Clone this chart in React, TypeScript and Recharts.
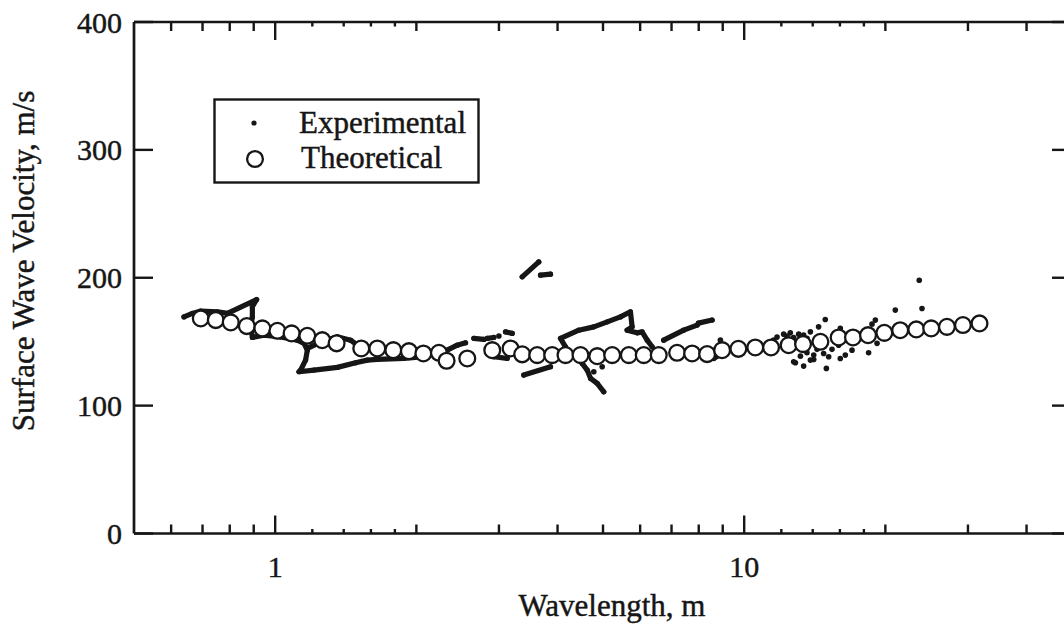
import React from 'react';
import { ScatterChart, Scatter, XAxis, YAxis, Legend } from 'recharts';

const FONT = '"Liberation Serif", "Times New Roman", Times, serif';
const INK = '#161616';

// Axis ticks (wavelength in m, velocity in m/s)
const xTicks = [0.6, 0.7, 0.8, 0.9, 1, 1.2, 1.4, 1.6, 1.8, 2, 3, 4, 5, 6, 7, 8, 9, 10, 12, 14, 16, 18, 20, 30, 40, 50];
const xMajorTicks = [1, 10];
const xSmallTicks = [1.2, 1.4, 1.6, 1.8, 12, 14, 16, 18];
const yTicks = [0, 100, 200, 300, 400];

// Theoretical dispersion curve: [wavelength m, velocity m/s]
const theoretical: [number, number][] = [
  [0.694, 168.2], [0.747, 166.9], [0.804, 165.1], [0.87, 162.2], [0.939, 160.4],
  [1.011, 158.5], [1.084, 156.5], [1.171, 154.6], [1.26, 151.2], [1.352, 148.7],
  [1.526, 144.7], [1.651, 144.7], [1.786, 143.4], [1.928, 142.6], [2.07, 140.8],
  [2.234, 141.3], [2.32, 135.1], [2.568, 136.9], [2.903, 143.4], [3.176, 144.7],
  [3.363, 140.1], [3.62, 139.5], [3.896, 139.5], [4.159, 139.5], [4.477, 139.5],
  [4.86, 138.7], [5.231, 139.5], [5.675, 139.5], [6.107, 139.5], [6.574, 139.5],
  [7.194, 141.3], [7.745, 140.8], [8.337, 140.3], [8.974, 143.4], [9.719, 144.4],
  [10.56, 145.5], [11.41, 145.5], [12.44, 147.3], [13.35, 148.1], [14.54, 149.9],
  [15.9, 153.3], [17.06, 153.3], [18.37, 155.1], [19.9, 156.9], [21.51, 159.0],
  [23.28, 159.6], [25.05, 160.4], [27.06, 161.6], [29.27, 163.0], [31.75, 164.3],
];

// Experimental dispersion data, dense runs of points traced as continuous strings
const expLoop: [number, number][] = [
  [0.639, 169.4], [0.666, 172.1], [0.694, 173.9], [0.753, 173.4], [0.791, 172.1],
  [0.913, 183.0], [0.894, 177.3], [0.894, 169.4], [0.887, 161.6], [0.894, 153.3],
  [0.946, 155.1], [1.027, 153.8], [1.115, 151.2], [1.152, 148.7], [1.171, 143.4],
  [1.161, 135.6], [1.133, 127.8], [1.124, 126.5], [1.21, 127.8], [1.357, 129.9],
  [1.484, 133.5], [1.572, 135.6], [1.651, 136.1], [1.881, 136.9], [2.075, 138.2],
  [2.216, 140.8], [2.327, 143.4], [2.444, 147.3], [2.546, 149.1],
];
const expBranch: [number, number][] = [
  [1.171, 144.7], [1.25, 149.7], [1.357, 153.8], [1.448, 151.2], [1.497, 147.3], [1.546, 142.1],
];
const expDashA: [number, number][] = [[2.652, 152.6], [2.786, 151.8]];
const expDashB: [number, number][] = [[2.833, 152.6], [2.925, 153.3]];
const expDashC: [number, number][] = [[3.098, 157.7], [3.202, 156.5]];
const expDashD: [number, number][] = [[2.925, 138.2], [3.124, 136.9]];
const expHighA: [number, number][] = [[3.363, 200.7], [3.648, 212.4]];
const expHighB: [number, number][] = [[3.679, 202.0], [3.864, 202.8]];
const expLowA: [number, number][] = [[3.389, 123.9], [3.864, 130.4]];
const expZigzag: [number, number][] = [
  [4.159, 146.0], [4.058, 152.6], [4.44, 159.0], [4.779, 161.6], [5.105, 165.5],
  [5.446, 169.4], [5.721, 173.4], [5.769, 161.6], [5.629, 159.0], [5.912, 156.9],
  [6.059, 157.7], [6.211, 151.2], [6.365, 146.0],
];
const expDrop: [number, number][] = [
  [4.434, 141.9], [4.514, 133.0], [4.627, 127.8], [4.703, 121.3], [4.86, 117.4], [5.019, 110.8],
];
const expRiseA: [number, number][] = [[6.736, 151.2], [7.431, 159.0], [7.937, 163.0]];
const expRiseB: [number, number][] = [[7.988, 164.5], [8.545, 166.9]];
const expUnder: [number, number][] = [[8.61, 136.9], [9.196, 143.4], [9.975, 146.0]];

// Scattered experimental points at long wavelengths
const expScatter: [number, number][] = [
  [2.999, 154.4], [4.779, 126.5], [4.98, 130.4], [8.898, 151.2],
  [11.56, 151.2], [11.75, 153.6], [12.14, 155.9], [12.34, 154.4], [12.54, 156.9],
  [12.75, 153.3], [13.07, 155.9], [13.39, 155.1], [13.61, 152.6], [13.84, 157.7],
  [14.41, 161.6], [14.89, 167.4], [12.75, 134.3], [12.86, 133.5], [13.39, 130.9],
  [13.84, 135.6], [14.07, 136.1], [14.97, 129.1], [15.39, 144.0], [16.03, 136.9],
  [16.43, 139.5], [16.98, 143.4], [18.42, 141.3], [16.03, 160.4], [18.73, 163.7],
  [19.04, 166.9], [21.0, 174.7], [23.94, 176.0], [23.62, 198.1], [19.2, 148.7],
  [14.3, 144.0], [14.07, 139.5], [13.18, 138.7], [13.61, 141.3], [14.77, 140.8],
  [15.14, 138.2], [15.9, 147.3],
];

const expStrings = [
  expLoop, expBranch, expDashA, expDashB, expDashC, expDashD, expHighA, expHighB,
  expLowA, expZigzag, expDrop, expRiseA, expRiseB, expUnder,
];

const toPoints = (rows: [number, number][]) => rows.map(([x, y]) => ({ x, y }));

const xTickLength = (v: number) => (xMajorTicks.includes(v) ? 18 : xSmallTicks.includes(v) ? 4.5 : 9);

// Slight outline thickens the serif glyphs a little
const textStyle = { fontFamily: FONT, fill: INK, stroke: INK, strokeWidth: 0.45 };

const BottomTick = (props: any) => {
  const { x, y, payload } = props;
  const v = payload.value;
  return (
    <g>
      <line x1={x} y1={y} x2={x} y2={y - xTickLength(v)} stroke={INK} strokeWidth={2.4} />
      {xMajorTicks.includes(v) && (
        <text x={x} y={y + 43.5} textAnchor="middle" fontSize={30} {...textStyle}>
          {v}
        </text>
      )}
    </g>
  );
};

const TopTick = (props: any) => {
  const { x, y, payload } = props;
  return <line x1={x} y1={y} x2={x} y2={y + xTickLength(payload.value)} stroke={INK} strokeWidth={2.4} />;
};

const LeftTick = (props: any) => {
  const { x, y, payload } = props;
  return (
    <g>
      <line x1={x} y1={y} x2={x + 19} y2={y} stroke={INK} strokeWidth={2.4} />
      <text x={x - 12} y={y + 10.5} textAnchor="end" fontSize={30} {...textStyle}>
        {payload.value}
      </text>
    </g>
  );
};

const RightTick = (props: any) => {
  const { x, y } = props;
  return <line x1={x} y1={y} x2={x - 20} y2={y} stroke={INK} strokeWidth={2.4} />;
};

const ExpDot = (p: any) => <circle cx={p.cx} cy={p.cy} r={2.6} fill={INK} stroke="none" />;
const TheoCircle = (p: any) => (
  <circle cx={p.cx} cy={p.cy} r={7.9} fill="#fff" stroke={INK} strokeWidth={2.3} />
);

const LegendBox = () => (
  <svg width={268} height={88} style={{ display: 'block' }}>
    <rect x={1.5} y={1.5} width={264} height={83} fill="#fff" stroke={INK} strokeWidth={2.4} />
    <circle cx={41} cy={25} r={2.6} fill={INK} />
    <circle cx={42} cy={61} r={7.9} fill="#fff" stroke={INK} strokeWidth={2.3} />
    <text x={86} y={35} fontSize={31} {...textStyle}>Experimental</text>
    <text x={88} y={70} fontSize={31} {...textStyle}>Theoretical</text>
  </svg>
);

const XTitle = (props: any) => {
  const vb = props.viewBox;
  return (
    <text x={vb.x + vb.width / 2 + 9} y={vb.y + 82} textAnchor="middle" fontSize={31} {...textStyle}>
      Wavelength, m
    </text>
  );
};

const YTitle = () => (
  <text
    x={0}
    y={0}
    transform="translate(34, 261) rotate(-90)"
    textAnchor="middle"
    fontSize={31}
    {...textStyle}
  >
    Surface Wave Velocity, m/s
  </text>
);

const axisLine = { stroke: INK, strokeWidth: 2.7 };
const expLine = { stroke: INK, strokeWidth: 5.2, strokeLinejoin: 'round', strokeLinecap: 'round', fill: 'none' };

export default function App() {
  return (
    <div
      style={{
        position: 'fixed',
        left: 0,
        top: 0,
        width: 1064,
        height: 626,
        overflow: 'hidden',
        background: '#fff',
      }}
    >
      <ScatterChart width={1100} height={626} margin={{ top: 12, right: 0, bottom: 0, left: 0 }}>
        <XAxis
          xAxisId="b"
          type="number"
          dataKey="x"
          scale="log"
          domain={[0.5, 50]}
          ticks={xTicks}
          interval={0}
          allowDataOverflow
          height={92.5}
          tickSize={0}
          tickMargin={0}
          tickLine={false}
          axisLine={axisLine}
          tick={<BottomTick />}
          label={<XTitle />}
        />
        <XAxis
          xAxisId="t"
          orientation="top"
          type="number"
          dataKey="x"
          scale="log"
          domain={[0.5, 50]}
          ticks={xTicks}
          interval={0}
          allowDataOverflow
          height={10}
          tickSize={0}
          tickMargin={0}
          tickLine={false}
          axisLine={axisLine}
          tick={<TopTick />}
        />
        <YAxis
          yAxisId="l"
          type="number"
          dataKey="y"
          domain={[0, 400]}
          ticks={yTicks}
          interval={0}
          allowDataOverflow
          width={134}
          tickSize={0}
          tickMargin={0}
          tickLine={false}
          axisLine={axisLine}
          tick={<LeftTick />}
          label={<YTitle />}
        />
        <YAxis
          yAxisId="r"
          orientation="right"
          type="number"
          dataKey="y"
          domain={[0, 400]}
          ticks={yTicks}
          interval={0}
          allowDataOverflow
          width={28}
          tickSize={0}
          tickMargin={0}
          tickLine={false}
          axisLine={axisLine}
          tick={<RightTick />}
        />
        {expStrings.map((rows, i) => (
          <Scatter
            key={`exp-${i}`}
            name="Experimental"
            xAxisId="b"
            yAxisId="l"
            data={toPoints(rows)}
            fill={INK}
            stroke={INK}
            strokeWidth={5.2}
            line={expLine}
            shape={ExpDot}
            legendType="none"
            isAnimationActive={false}
          />
        ))}
        <Scatter
          name="Experimental"
          xAxisId="b"
          yAxisId="l"
          data={toPoints(expScatter)}
          fill={INK}
          shape={(p: any) => <circle cx={p.cx} cy={p.cy} r={2.8} fill={INK} />}
          legendType="none"
          isAnimationActive={false}
        />
        <Scatter
          name="Theoretical"
          xAxisId="b"
          yAxisId="l"
          data={toPoints(theoretical)}
          fill="#fff"
          shape={TheoCircle}
          legendType="none"
          isAnimationActive={false}
        />
        <Legend
          layout="vertical"
          align="center"
          verticalAlign="middle"
          wrapperStyle={{ left: 213, top: 98, width: 268, height: 88 }}
          content={() => <LegendBox />}
        />
      </ScatterChart>
    </div>
  );
}
